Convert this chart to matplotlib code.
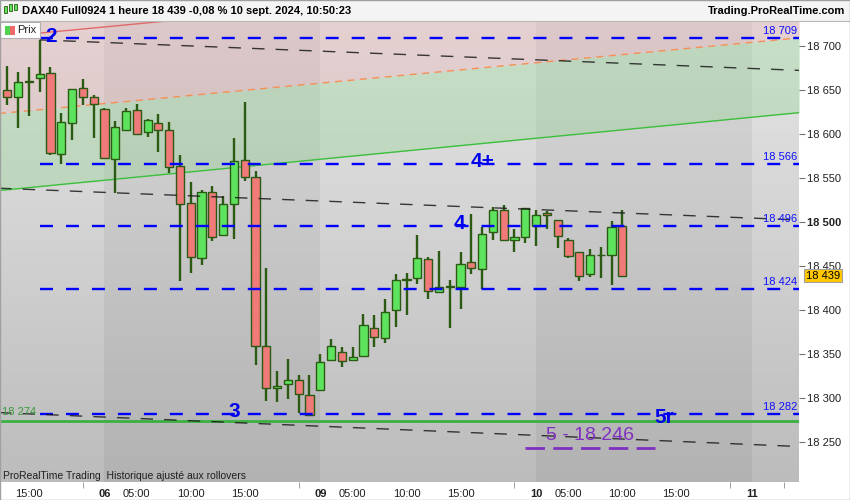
import numpy as np
import matplotlib
matplotlib.use('Agg')
import matplotlib.pyplot as plt
from matplotlib.patches import Rectangle
from matplotlib.lines import Line2D
from matplotlib.colors import LinearSegmentedColormap

plt.rcParams['font.family'] = ['Liberation Sans', 'DejaVu Sans']

# DAX40 hourly bars, 5 sept 13:00 -> 10 sept 10:00
opens = [18650, 18642, 18659, 18664, 18669, 18577, 18613, 18652, 18642, 18628,
         18572, 18604, 18627, 18602, 18612, 18605, 18564, 18522, 18459, 18534,
         18485, 18520, 18570, 18551, 18359, 18311, 18316, 18320, 18303, 18309,
         18343, 18352, 18343, 18348, 18380, 18368, 18400, 18434, 18436, 18458,
         18421, 18426, 18426, 18454, 18447, 18489, 18514, 18479, 18483, 18496,
         18510, 18502, 18480, 18466, 18441, 18462, 18462, 18495]
highs = [18677, 18670, 18676, 18707, 18676, 18624, 18651, 18662, 18644, 18629,
         18615, 18629, 18634, 18617, 18623, 18614, 18576, 18545, 18536, 18541,
         18530, 18595, 18636, 18558, 18448, 18331, 18344, 18326, 18326, 18350,
         18367, 18358, 18358, 18395, 18394, 18413, 18441, 18442, 18485, 18460,
         18467, 18434, 18466, 18509, 18494, 18517, 18519, 18492, 18516, 18514,
         18513, 18502, 18482, 18466, 18469, 18472, 18501, 18514]
lows = [18633, 18607, 18620, 18648, 18576, 18566, 18593, 18633, 18595, 18572,
        18533, 18604, 18600, 18597, 18579, 18556, 18433, 18442, 18451, 18478,
        18484, 18481, 18547, 18337, 18297, 18295, 18299, 18283, 18281, 18308,
        18342, 18335, 18342, 18347, 18358, 18362, 18381, 18394, 18429, 18412,
        18421, 18380, 18401, 18441, 18424, 18480, 18478, 18466, 18476, 18473,
        18492, 18471, 18459, 18433, 18437, 18436, 18428, 18437]
closes = [18642, 18659, 18660, 18668, 18578, 18614, 18651, 18642, 18634, 18573,
          18608, 18626, 18600, 18616, 18605, 18563, 18521, 18460, 18534, 18483,
          18520, 18569, 18551, 18359, 18311, 18314, 18320, 18304, 18281, 18341,
          18359, 18342, 18346, 18383, 18369, 18398, 18434, 18435, 18459, 18422,
          18426, 18427, 18452, 18448, 18486, 18514, 18479, 18483, 18516, 18508,
          18508, 18484, 18461, 18439, 18462, 18463, 18494, 18439]

# horizontal levels (blue) and support (green)
levels = [18709, 18566, 18496, 18424, 18282]
level_labels = ['18 709', '18 566', '18 496', '18 424', '18 282']
support = 18274
target = 18246
last_price = 18439

# trendlines as (bar, price) end points
orange_line = ([-1, 74], [18623, 18710])
green_line = ([-1, 74], [18535.5, 18625])
red_line = ([-1, 74], [18710, 18797.5])
black_a = ([3, 74], [18707, 18672])
black_b = ([-1, 74], [18538.5, 18502])
black_c = ([-1, 74], [18283.5, 18244.5])

# wave labels: text, bar, price
waves = [('2', 4.05, 18711), ('4+', 44.0, 18569), ('4', 41.9, 18498),
         ('3', 21.0, 18285), ('5r', 60.9, 18278)]

# x axis
tick_pos = [2, 9, 12, 17, 22, 29, 32, 37, 42, 49, 52, 57, 62, 69]
tick_lab = ['15:00', '06', '05:00', '10:00', '15:00', '09', '05:00', '10:00',
            '15:00', '10', '05:00', '10:00', '15:00', '11']
day_labels = ['06', '09', '10', '11']
minor_pos = [7, 9, 27, 29, 47, 49, 67, 69, 72]
dark_days = [(9, 29), (49, 69)]

XMIN, XMAX = -0.68, 73.37
YMIN, YMAX = 18204.5, 18727.3

fig = plt.figure(figsize=(8.5, 5), dpi=100)
fig.patch.set_facecolor('white')
ax = fig.add_axes([0, 18 / 500, 799 / 850, 460 / 500])
ax.set_xlim(XMIN, XMAX)
ax.set_ylim(YMIN, YMAX)

# background
cm = LinearSegmentedColormap.from_list('bg', ['#e6e6e6', '#bcbcbc'])
grad = np.linspace(0, 1, 256).reshape(-1, 1)
ax.imshow(grad, extent=[XMIN, XMAX, YMIN, YMAX], aspect='auto', cmap=cm,
          origin='upper', zorder=0)
for a, b in dark_days:
    ax.axvspan(a, b, color='black', alpha=0.05, lw=0, zorder=0.5)

# channel zones
xs = np.array(orange_line[0])
ax.fill_between(xs, orange_line[1], [18900, 18900], color='#e4a1a1', alpha=0.3, lw=0, zorder=1)
ax.fill_between(xs, green_line[1], orange_line[1], color='#8fd58f', alpha=0.35, lw=0, zorder=1)
ax.plot(*red_line, color='#e06a6a', lw=1, zorder=1.5)
ax.plot(*orange_line, color='#f59055', lw=1, ls=(0, (5, 4)), zorder=1.5)
ax.plot(*green_line, color='#3cbf3c', lw=1, zorder=1.5)

# candles
idx = np.arange(len(opens))
o = np.array(opens)
c = np.array(closes)
up = c >= o
edge = '#2b5a12'
ax.vlines(idx, lows, highs, color=edge, lw=1.7, zorder=2.9)
ax.bar(idx, np.maximum(np.abs(c - o), 1), bottom=np.minimum(o, c), width=0.76,
       color=np.where(up, '#5ee35e', '#f07a7a'), edgecolor=edge, linewidth=1.0, zorder=3)

# levels
for lv, lab in zip(levels, level_labels):
    ax.plot([3, 74], [lv, lv], color='#0000ff', lw=1.7, ls=(0, (5.5, 5.5)), zorder=4)
    ax.text(73.2, lv + 2, lab, color='#1010ff', fontsize=8, ha='right', va='bottom', zorder=6)
ax.axhline(support, color='#3cb043', lw=2, zorder=4)
ax.text(-0.45, support + 4, '18 274', color='#3a9a3a', fontsize=8, ha='left', va='bottom', zorder=6)

for ln in (black_a, black_b, black_c):
    ax.plot(*ln, color='#1a1a1a', lw=1, ls=(0, (9, 8)), alpha=0.85, zorder=4.5)

for t, bx, py in waves:
    ax.text(bx, py, t, color='#0000ee', fontsize=15, fontweight='bold',
            ha='center', va='center', zorder=7)

ax.text(54.0, target + 11, '5 - 18 246', color='#8030c0', fontsize=14,
        ha='center', va='center', zorder=7)
ax.plot([48, 60], [target - 3, target - 3], color='#8030c0', lw=2,
        ls=(0, (7, 3)), zorder=6)

ax.text(3 / 799, 6 / 460, 'ProRealTime Trading  Historique ajusté aux rollovers',
        transform=ax.transAxes, fontsize=7.5, color='#202020', va='center', ha='left', zorder=8)

# axes styling
for s in ax.spines.values():
    s.set_visible(False)
ax.yaxis.tick_right()
yt = list(range(18250, 18701, 50))
ax.set_yticks(yt)
ax.set_yticklabels([f'{v:,}'.replace(',', ' ') for v in yt])
ax.tick_params(axis='y', length=4, color='#707070', labelsize=8, labelcolor='#202020', pad=1.5)
for lab in ax.get_yticklabels():
    if lab.get_text() == '18 500':
        lab.set_fontweight('bold')

ax.set_xticks(tick_pos)
ax.set_xticklabels(tick_lab)
ax.set_xticks(minor_pos, minor=True)
ax.tick_params(axis='x', which='major', length=0, labelsize=8, labelcolor='#202020', pad=5)
ax.tick_params(axis='x', which='minor', length=4, color='#909090')
for lab in ax.get_xticklabels():
    if lab.get_text() in day_labels:
        lab.set_fontweight('bold')

# last price box
ax.annotate(f'{last_price:,}'.replace(',', ' '), xy=(1.0, last_price),
            xycoords=('axes fraction', 'data'), xytext=(5, 0), textcoords='offset points',
            fontsize=8, va='center', ha='left', color='black', annotation_clip=False,
            bbox=dict(boxstyle='square,pad=0.15', facecolor='#ffc800', edgecolor='#a0a0a0', lw=0.8),
            zorder=9)

# header bar
fig.patches.append(Rectangle((0, 1 - 21 / 500), 1, 21 / 500, transform=fig.transFigure,
                             facecolor='#f4f4f4', edgecolor='none', zorder=0))
fig.lines.append(Line2D([0, 1], [1 - 21 / 500, 1 - 21 / 500], transform=fig.transFigure,
                        color='#b8b8b8', lw=0.8))
for i, (b, h) in enumerate([(0.35, 0.3), (0.5, 0.35), (0.6, 0.3)]):
    fig.patches.append(Rectangle(((4 + i * 5) / 850, 1 - (6 + (1 - b) * 10) / 500), 3 / 850, h * 20 / 500,
                                 transform=fig.transFigure, facecolor='#5ee35e',
                                 edgecolor=edge, lw=0.6))
fig.text(22 / 850, 1 - 11 / 500, 'DAX40 Full0924 1 heure 18 439 -0,08 % 10 sept. 2024, 10:50:23',
         fontsize=8, fontweight='bold', va='center', ha='left', color='black')
fig.text(845 / 850, 1 - 11 / 500, 'Trading.ProRealTime.com', fontsize=8, fontweight='bold',
         va='center', ha='right', color='black')

# "Prix" legend box
fig.patches.append(Rectangle((0, 1 - 38 / 500), 40 / 850, 16 / 500, transform=fig.transFigure,
                             facecolor='white', edgecolor='#b0b0b0', lw=0.8))
fig.patches.append(Rectangle((5 / 850, 1 - 35 / 500), 5 / 850, 9 / 500, transform=fig.transFigure,
                             facecolor='#4fd24f', edgecolor='none'))
fig.patches.append(Rectangle((10 / 850, 1 - 35 / 500), 5 / 850, 9 / 500, transform=fig.transFigure,
                             facecolor='#ee6a6a', edgecolor='none'))
fig.text(17 / 850, 1 - 30 / 500, 'Prix', fontsize=8, va='center', ha='left', color='#202020')

fig.patches.append(Rectangle((0, 0), 1, 1, transform=fig.transFigure, fill=False,
                             edgecolor='#a0a0a0', lw=1))

fig.savefig('out.png', dpi=100)
